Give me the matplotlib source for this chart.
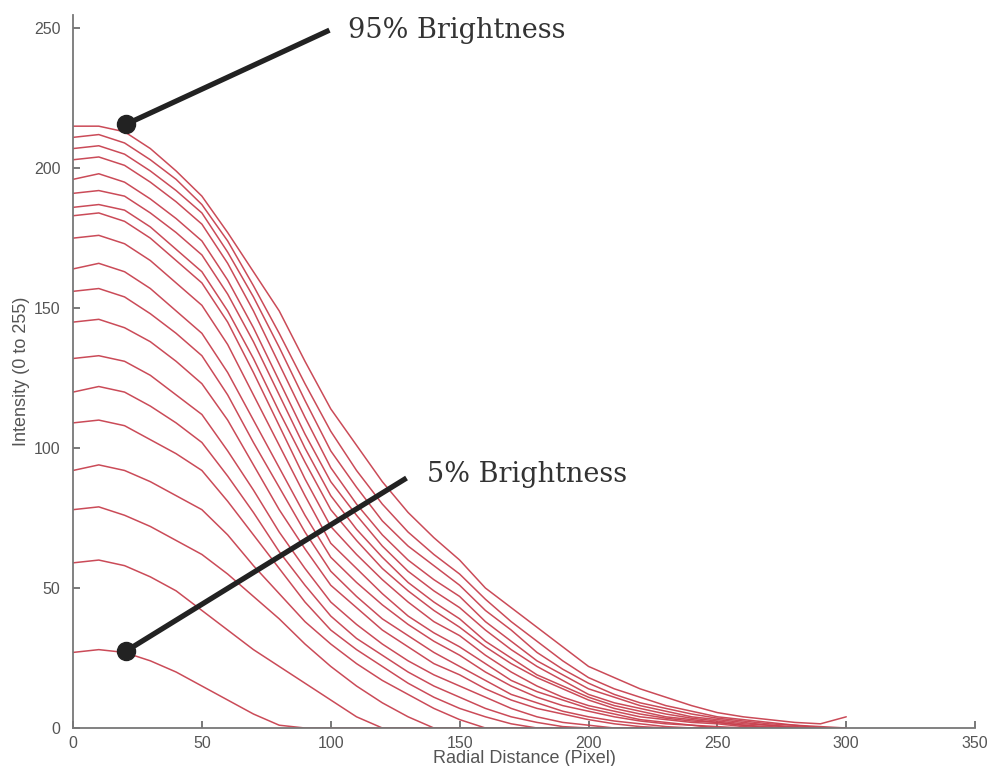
import matplotlib
matplotlib.use('Agg')
import matplotlib.pyplot as plt
import numpy as np

# Radial sample positions (pixel) shared by every profile.
radial_px = np.arange(0, 310, 10)

# Brightness levels, 5% .. 95%.
brightness = [5, 10, 15, 20, 25, 30, 35, 40, 45, 50,
              55, 60, 65, 70, 75, 80, 85, 90, 95]

# Intensity profiles (trailing zeros padded below).
profiles = [
    [27, 28, 27, 24, 20, 15, 10, 5, 1, 0],
    [59, 60, 58, 54, 49, 42, 35, 28, 22, 16, 10, 4, 0],
    [78, 79, 76, 72, 67, 62, 55, 47, 39, 30, 22, 15, 9, 4, 0],
    [92, 94, 92, 88, 83, 78, 69, 58, 48, 38, 30, 23, 17, 12, 7, 3, 0],
    [109, 110, 108, 103, 98, 92, 81, 69, 57, 45, 35, 28, 22, 16, 11, 7,
     4, 1.5, 0],
    [120, 122, 120, 115, 109, 102, 90, 77, 63, 51, 40, 32, 26, 20, 15, 11,
     7, 4, 2, 0.5, 0],
    [132, 133, 131, 126, 119, 112, 99, 85, 70, 57, 45, 37, 30, 24, 19, 15,
     11, 7, 4, 2, 1, 0],
    [145, 146, 143, 138, 131, 123, 110, 94, 78, 64, 51, 43, 35, 29, 23, 19,
     14, 10, 7, 5, 3, 1.5, 0.5, 0],
    [156, 157, 154, 148, 141, 133, 119, 102, 86, 70, 56, 47, 39, 33, 27, 22,
     17, 12, 9, 6, 4, 2.5, 1.5, 0.5, 0],
    [164, 166, 163, 157, 149, 141, 127, 110, 93, 76, 61, 52, 44, 37, 31, 26,
     20, 15, 11, 8, 6, 4, 2.5, 1.5, 1, 0],
    [175, 176, 173, 167, 159, 151, 137, 119, 101, 83, 66, 57, 48, 40, 34, 29,
     23, 17, 13, 10, 7, 5, 3, 2, 1, 0.5, 0],
    [183, 184, 181, 175, 167, 159, 145, 127, 108, 89, 72, 62, 53, 45, 38, 33,
     26, 20, 15, 11, 8, 6, 4, 3, 2, 1.5, 0.5, 0],
    [186, 187, 185, 179, 171, 163, 149, 132, 113, 95, 78, 67, 57, 49, 42, 36,
     29, 23, 18, 14, 10, 7, 5, 3.5, 2.5, 2, 1, 0],
    [191, 192, 190, 184, 177, 169, 155, 138, 119, 100, 83, 71, 61, 52, 45, 39,
     31, 25, 19, 15, 11, 8, 6, 4, 3, 2, 1, 0.5, 0],
    [196, 198, 195, 189, 182, 174, 160, 143, 124, 105, 88, 76, 65, 56, 49, 43,
     35, 28, 22, 17, 12, 9, 7, 5, 3.5, 2.5, 1.5, 1, 0],
    [203, 204, 201, 195, 188, 180, 166, 149, 130, 111, 93, 80, 69, 60, 53, 47,
     38, 31, 24, 19, 14, 11, 8, 6, 4, 3, 2, 1, 0.5, 0],
    [207, 208, 205, 199, 192, 184, 170, 154, 136, 117, 99, 86, 74, 65, 58, 51,
     42, 35, 27, 21, 16, 12, 9, 7, 5, 3.5, 2.5, 1.5, 1, 0],
    [211, 212, 209, 203, 196, 187, 174, 158, 141, 123, 106, 92, 80, 70, 62, 55,
     46, 38, 31, 24, 18, 14, 11, 8, 6, 4, 3, 2, 1, 0.5, 0],
    [215, 215, 213, 207, 199, 190, 177, 163, 149, 131, 114, 101, 88, 77, 68, 60,
     50, 43, 36, 29, 22, 18, 14, 11, 8, 5.5, 4, 3, 2, 1.5, 4],
]

# Callouts: (label, point on curve, line end, text position)
callouts = [
    ('95% Brightness', (20.6, 215.7), (99.5, 249.3), (106.5, 249.3)),
    ('5% Brightness', (20.6, 27.5), (129.4, 89.3), (137.5, 90.7)),
]

fig = plt.figure(figsize=(9.92, 7.66), dpi=100)
ax = fig.add_axes([0.0736, 0.0496, 0.9094, 0.9304])

for level, prof in zip(brightness, profiles):
  vals = np.zeros(len(radial_px))
  vals[:len(prof)] = prof
  ax.plot(radial_px, vals, color='#c8414f', lw=1.1, alpha=0.95,
          solid_capstyle='round')

for label, pt, end, txt in callouts:
  ax.plot([pt[0], end[0]], [pt[1], end[1]], color='#222222', lw=3.8,
          solid_capstyle='butt', clip_on=False, zorder=5)
  ax.plot([pt[0]], [pt[1]], 'o', color='#222222', ms=13, clip_on=False,
          zorder=6)
  ax.text(txt[0], txt[1], label, family='DejaVu Serif', fontsize=19.5,
          color='#333333', va='center', ha='left', clip_on=False)

ax.set_xlim(0, 350)
ax.set_ylim(0, 254.6)
ax.set_xticks(np.arange(0, 351, 50))
ax.set_yticks(np.arange(0, 251, 50))
for side in ('top', 'right'):
  ax.spines[side].set_visible(False)
for side in ('left', 'bottom'):
  ax.spines[side].set_color('#777777')
  ax.spines[side].set_linewidth(1.3)
ax.tick_params(direction='in', length=5, width=1.1, color='#555555',
               labelcolor='#555555', labelsize=11.5)
ax.tick_params(axis='x', pad=6)
ax.tick_params(axis='y', pad=9)
for lbl in ax.get_xticklabels() + ax.get_yticklabels():
  lbl.set_family('Liberation Sans')
ax.set_xlabel('Radial Distance (Pixel)', fontsize=13, color='#555555',
              family='Liberation Sans', labelpad=-1)
ax.set_ylabel('Intensity (0 to 255)', fontsize=13, color='#555555',
              family='Liberation Sans', labelpad=3)

fig.savefig('out.png', dpi=100)
